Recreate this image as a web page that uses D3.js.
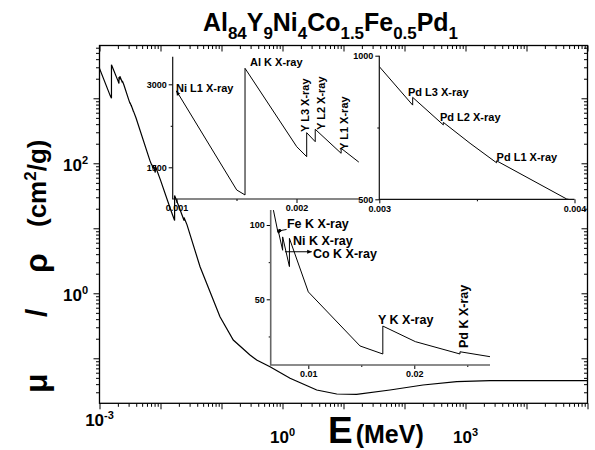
<!DOCTYPE html>
<html lang="en">
<head>
<meta charset="utf-8">
<title>Al84Y9Ni4Co1.5Fe0.5Pd1 mass attenuation</title>
<script src="https://cdn.jsdelivr.net/npm/d3@7"></script>
<style>
  body { margin: 0; background: #fff; }
  text { font-family: "Liberation Sans", Arial, sans-serif; font-weight: bold; fill: #000; }
</style>
</head>
<body>
<script>

// photon energy (MeV) and mass attenuation coefficient mu/rho (cm2/g)
var energy = [0.001, 0.0015017, 0.001571, 0.001571, 0.002002, 0.002085, 0.002085, 0.002156, 0.002156,
              0.002372, 0.002372, 0.002515,
              0.003, 0.003171, 0.003171, 0.003328, 0.003328, 0.003465, 0.003601, 0.003601, 0.00396,
              0.00671, 0.00714, 0.00714, 0.00758, 0.00758, 0.00822, 0.00822, 0.0100, 0.01488,
              0.01703, 0.01703, 0.0201, 0.02431, 0.02431, 0.02714,
              0.0445, 0.0944, 0.156, 0.293, 0.377, 0.624, 1.33, 3.64, 7.74, 16.4, 57.8, 201, 717, 2524, 1e5];
var mu     = [2880, 1090, 1000, 3289, 1872, 1692, 2126, 1963, 2187,
              1753, 1843, 1601,
              962, 828, 855, 759, 768, 695, 627, 634, 501,
              110, 95, 97, 83, 92, 72, 91, 55, 18.6,
              13.2, 32.0, 21.5, 13.2, 14.7, 11.4,
              2.56, 0.436, 0.191, 0.1125, 0.0942, 0.0743, 0.0492, 0.0325, 0.0282, 0.0279, 0.0325, 0.0388, 0.0436, 0.0452, 0.0452];

// title pieces: element, atomic fraction
var elements  = ["Al", "Y", "Ni", "Co", "Fe", "Pd"];
var fractions = ["84", "9", "4", "1.5", "0.5", "1"];

// main axis labels
var xLabelValues = [1e-3, 1e0, 1e3];
var yLabelValues = [1e2, 1e0];

// absorption edge labels (text, E, mu where the label starts, vertical?)
var edges1 = [["Ni L1 X-ray", 0.000996, 2860, 0], ["Al K X-ray", 0.0016125, 3331, 0],
              ["Y L3 X-ray", 0.0021, 2138, 1], ["Y L2 X-ray", 0.0022375, 2174, 1], ["Y L1 X-ray", 0.002432, 1813, 1]];
var edges2 = [["Pd L3 X-ray", 0.003147, 860, 0], ["Pd L2 X-ray", 0.003311, 773, 0], ["Pd L1 X-ray", 0.003601, 633, 0]];
var edges3 = [["Fe K X-ray", 0.00799, 98, 0], ["Ni K X-ray", 0.008557, 86.5, 0], ["Co K X-ray", 0.010443, 77.8, 0],
              ["Y K X-ray", 0.016575, 33.4, 0], ["Pd K X-ray", 0.025066, 17.2, 1]];

var data = energy.map(function(e, i) { return [e, mu[i]]; });

var w = 595, h = 450;
var svg = d3.select("body").append("svg").attr("width", w).attr("height", h);

var defs = svg.append("defs");
defs.append("marker").attr("id", "arr").attr("viewBox", "0 0 10 10")
    .attr("refX", 9).attr("refY", 5).attr("markerWidth", 5).attr("markerHeight", 5)
    .attr("orient", "auto")
  .append("path").attr("d", "M0,1L10,5L0,9z").attr("fill", "#000");

//---- main plot
var pLeft = 99.5, pRight = 587.5, pTop = 45.5, pBottom = 403.3;
var x = d3.scaleLog().domain([1e-3, 1e5]).range([pLeft, pRight]);
var y = d3.scaleLog().domain([0.0203, 6490]).range([pBottom, pTop]);

function logTicks(lo, hi, major) {
  var t = [];
  for (var n = -3; n <= 5; n++) {
    for (var k = 1; k < 10; k++) {
      var v = +(k * Math.pow(10, n)).toPrecision(6);
      if (v >= lo && v <= hi && ((k === 1) === major)) t.push(v);
    }
  }
  return t;
}

function ticks(axisFn, scale, vals, size, tx, ty, fmt) {
  var g = svg.append("g").attr("transform", "translate(" + tx + "," + ty + ")")
    .call(axisFn(scale).tickValues(vals).tickSize(size).tickSizeOuter(0).tickPadding(2).tickFormat(fmt || ""));
  g.select(".domain").remove();
  g.selectAll("line").attr("stroke", "#000").attr("stroke-width", 1);
  g.selectAll("text").attr("font-size", 9).attr("fill", "#000");
  return g;
}

var xMaj = logTicks(1e-3, 1e5, true), xMin = logTicks(1e-3, 1e5, false);
var yMaj = logTicks(0.0203, 6490, true), yMin = logTicks(0.0203, 6490, false);

ticks(d3.axisBottom, x, xMaj, 6, 0, pBottom);
ticks(d3.axisBottom, x, xMin, 3.5, 0, pBottom);
ticks(d3.axisTop, x, xMaj, -6, 0, pTop);
ticks(d3.axisTop, x, xMin, -3.5, 0, pTop);
ticks(d3.axisLeft, y, yMaj, 6, pLeft, 0);
ticks(d3.axisLeft, y, yMin, 3.5, pLeft, 0);
ticks(d3.axisRight, y, yMaj, -6, pRight, 0);
ticks(d3.axisRight, y, yMin, -3.5, pRight, 0);

svg.append("rect").attr("x", pLeft).attr("y", pTop)
   .attr("width", pRight - pLeft).attr("height", pBottom - pTop)
   .attr("fill", "none").attr("stroke", "#000").attr("stroke-width", 1.3);

svg.append("clipPath").attr("id", "clipMain").append("rect")
   .attr("x", pLeft).attr("y", pTop).attr("width", pRight - pLeft).attr("height", pBottom - pTop);

svg.append("path").datum(data)
   .attr("clip-path", "url(#clipMain)")
   .attr("fill", "none").attr("stroke", "#000").attr("stroke-width", 1.2)
   .attr("d", d3.line().x(function(d) { return x(d[0]); }).y(function(d) { return y(d[1]); }));

// tick labels with exponents
function expOf(d) { return Math.round(Math.log10(d)); }

var xl = svg.selectAll(".xl").data(xLabelValues).enter().append("text")
   .attr("x", function(d) { return x(d); })
   .attr("y", function(d, i) { return i === 0 ? 426 : 443; })
   .attr("text-anchor", "middle").attr("font-size", 17);
xl.append("tspan").text("10");
xl.append("tspan").attr("dy", -7).attr("font-size", 11).text(expOf);

var yl = svg.selectAll(".yl").data(yLabelValues).enter().append("text")
   .attr("x", 88).attr("y", function(d) { return y(d) + 8; })
   .attr("text-anchor", "end").attr("font-size", 17);
yl.append("tspan").text("10");
yl.append("tspan").attr("dy", -7).attr("font-size", 11).text(expOf);

// axis titles
var xt = svg.append("text").attr("x", 328).attr("y", 443);
xt.append("tspan").attr("font-size", 37).text("E");
xt.append("tspan").attr("font-size", 25).attr("dx", 3).text("(MeV)");

var yt = svg.append("text").attr("transform", "rotate(-90)");
yt.append("tspan").attr("x", -393).attr("y", 47).attr("font-size", 32).text("\u03bc");
yt.append("tspan").attr("x", -317).attr("y", 47).attr("font-size", 30).text("/");
yt.append("tspan").attr("x", -273).attr("y", 47).attr("font-size", 32).text("\u03c1");
yt.append("tspan").attr("x", -227).attr("y", 46).attr("font-size", 26).text("(cm");
yt.append("tspan").attr("dy", -10).attr("font-size", 17).text("2");
yt.append("tspan").attr("dy", 10).attr("font-size", 26).text("/g)");

// title
var tt = svg.append("text").attr("x", 330.5).attr("y", 31).attr("text-anchor", "middle")
   .attr("textLength", 255).attr("lengthAdjust", "spacingAndGlyphs");
elements.forEach(function(el, i) {
  tt.append("tspan").attr("font-size", 25).attr("dy", i === 0 ? 0 : -8).text(el);
  tt.append("tspan").attr("font-size", 17).attr("dy", 8).text(fractions[i]);
});

//---- insets
function inset(id, xs, ys, xMajor, xMinor, yMajor, yMinor, color, width) {
  var xr = xs.range(), yr = ys.range();
  svg.append("clipPath").attr("id", id).append("rect")
     .attr("x", xr[0]).attr("y", yr[1]).attr("width", xr[1] - xr[0]).attr("height", yr[0] - yr[1]);
  svg.append("path").datum(data)
     .attr("clip-path", "url(#" + id + ")")
     .attr("fill", "none").attr("stroke", "#000").attr("stroke-width", 1)
     .attr("d", d3.line().x(function(d) { return xs(d[0]); }).y(function(d) { return ys(d[1]); }));
  var fmt = d3.format("~g");
  ticks(d3.axisBottom, xs, xMajor, 4, 0, yr[0], fmt);
  ticks(d3.axisBottom, xs, xMinor, 2, 0, yr[0]);
  ticks(d3.axisLeft, ys, yMajor, 4, xr[0], 0, fmt);
  ticks(d3.axisLeft, ys, yMinor, 2, xr[0], 0);
  svg.append("path").attr("fill", "none").attr("stroke", color).attr("stroke-width", width)
     .attr("d", "M" + xr[0] + "," + yr[1] + "V" + yr[0] + "H" + xr[1]);
}

function edgeLabels(list, xs, ys, size) {
  list.forEach(function(d) {
    var t = svg.append("text").attr("font-size", size).text(d[0]);
    if (d[3]) t.attr("transform", "translate(" + xs(d[1]) + "," + ys(d[2]) + ") rotate(-90)");
    else t.attr("x", xs(d[1])).attr("y", ys(d[2]));
  });
}

var x1 = d3.scaleLinear().domain([0.0009683, 0.00252]).range([172.7, 358.9]);
var y1 = d3.scaleLinear().domain([927, 3499]).range([199, 56.7]);
inset("clip1", x1, y1, [0.001, 0.002], [0.0015], [1500, 3000], [2250], "#111", 1.2);
edgeLabels(edges1, x1, y1, 11);
// small arrow head at the start of the curve
svg.append("path").attr("fill", "none").attr("stroke", "#000").attr("marker-end", "url(#arr)")
   .attr("d", "M" + x1(0.00102) + "," + y1(2800) + "L" + x1(energy[0]) + "," + y1(mu[0]));

var x2 = d3.scaleLinear().domain([0.003, 0.004]).range([379.3, 574.5]);
var y2 = d3.scaleLinear().domain([500, 1000]).range([199.3, 55.7]);
inset("clip2", x2, y2, [0.003, 0.004], [0.0035], [500, 1000], [750], "#111", 1.2);
edgeLabels(edges2, x2, y2, 11);

var x3 = d3.scaleLinear().domain([0.006453, 0.027142]).range([270.7, 490]);
var y3 = d3.scaleLinear().domain([5.79, 110.1]).range([365, 210]);
inset("clip3", x3, y3, [0.01, 0.02], [0.015, 0.025], [50, 100], [25, 75], "#666", 1.6);
edgeLabels(edges3, x3, y3, 12.5);
svg.append("path").attr("fill", "none").attr("stroke", "#000").attr("marker-end", "url(#arr)")
   .attr("d", "M" + x3(0.00795) + "," + y3(97) + "Q" + x3(0.0074) + "," + y3(97) + " " + x3(0.00716) + "," + y3(94.5));
svg.append("path").attr("fill", "none").attr("stroke", "#000").attr("marker-end", "url(#arr)")
   .attr("d", "M" + x3(0.0078) + "," + y3(82) + "L" + x3(0.01032) + "," + y3(82));

</script>
</body>
</html>
